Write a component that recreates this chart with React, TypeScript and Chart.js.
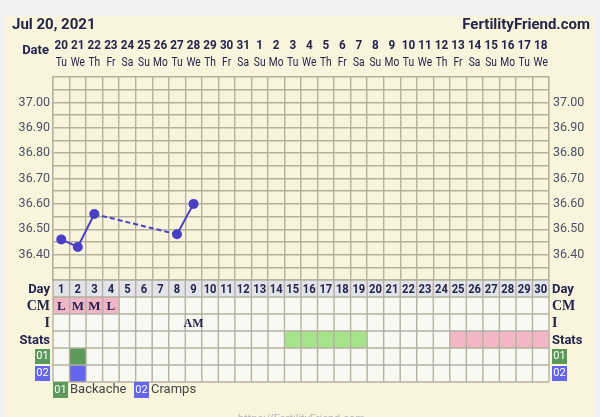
import React, { useEffect, useRef } from 'react';
import { Chart, registerables } from 'chart.js';

Chart.register(...registerables);

const headerDate = 'Jul 20, 2021';
const siteName = 'FertilityFriend.com';
const dateNumbers = ['20','21','22','23','24','25','26','27','28','29','30','31','1','2','3','4','5','6','7','8','9','10','11','12','13','14','15','16','17','18'];
const weekdays = ['Tu','We','Th','Fr','Sa','Su','Mo','Tu','We','Th','Fr','Sa','Su','Mo','Tu','We','Th','Fr','Sa','Su','Mo','Tu','We','Th','Fr','Sa','Su','Mo','Tu','We'];
const cycleDays = [1,2,3,4,5,6,7,8,9,10,11,12,13,14,15,16,17,18,19,20,21,22,23,24,25,26,27,28,29,30];
const tempDays = [1, 2, 3, 8, 9];
const temps = [36.46, 36.43, 36.56, 36.48, 36.60];
const tempTickLabels = [36.40, 36.50, 36.60, 36.70, 36.80, 36.90, 37.00];
const cmDays = [1, 2, 3, 4];
const cmLabels = ['L', 'M', 'M', 'L'];
const intercourseDays = [9];
const intercourseLabels = ['AM'];
const statsGreenDays = [15, 16, 17, 18, 19];
const statsPinkDays = [25, 26, 27, 28, 29, 30];
const backacheDays = [2];
const crampsDays = [2];
const rowNames = ['Day', 'CM', 'I', 'Stats', '01', '02'];
const legendItems = [
  { code: '01', name: 'Backache' },
  { code: '02', name: 'Cramps' },
];

const NAVY = '#24244c';
const GRID = '#b4b1a0';
const CREAM = '#f8f5dc';
const PINK = '#f2b6c6';
const LGREEN = '#a6e48c';
const DGREEN = '#5b9a5b';
const BLUE = '#6464ef';
const LINE = '#4a3fc4';

const ROW_H = 17;

const tablePlugin = {
  id: 'ffTable',
  beforeDraw(chart: any) {
    const ctx = chart.ctx;
    ctx.save();
    ctx.fillStyle = '#f1f1f1';
    ctx.fillRect(0, 0, chart.width, chart.height);
    ctx.fillStyle = CREAM;
    ctx.fillRect(5, 16, 590, chart.height - 16);
    ctx.restore();
  },
  afterDraw(chart: any) {
    const ctx = chart.ctx;
    const x = chart.scales.x;
    const area = chart.chartArea;
    const top = area.bottom;
    const L = x.getPixelForValue(0.5);
    const R = x.getPixelForValue(30.5);
    const cx = (d: number) => x.getPixelForValue(d);
    const cl = (d: number) => x.getPixelForValue(d - 0.5);
    const cw = x.getPixelForValue(1.5) - x.getPixelForValue(0.5);
    const rowY = (r: number) => top + r * ROW_H;
    const narrowText = (t: string, px: number, py: number, sx: number) => {
      ctx.save();
      ctx.translate(px, py);
      ctx.scale(sx, 1);
      ctx.fillText(t, 0, 0);
      ctx.restore();
    };
    ctx.save();

    // row backgrounds
    ctx.fillStyle = '#e3e3ea';
    ctx.fillRect(L, rowY(0), R - L, ROW_H);
    ctx.fillStyle = '#f9f9f3';
    ctx.fillRect(L, rowY(1), R - L, ROW_H * 5);

    // colored cells
    const fillCells = (days: number[], row: number, color: string) => {
      ctx.fillStyle = color;
      days.forEach((d) => ctx.fillRect(cl(d), rowY(row), cw, ROW_H));
    };
    fillCells(cmDays, 1, PINK);
    fillCells(statsGreenDays, 3, LGREEN);
    fillCells(statsPinkDays, 3, PINK);
    fillCells(backacheDays, 4, DGREEN);
    fillCells(crampsDays, 5, BLUE);

    // grid lines
    ctx.strokeStyle = GRID;
    ctx.lineWidth = 1.4;
    ctx.beginPath();
    for (let r = 0; r <= rowNames.length; r++) {
      ctx.moveTo(L, rowY(r));
      ctx.lineTo(R, rowY(r));
    }
    for (let d = 0; d <= cycleDays.length; d++) {
      const px = x.getPixelForValue(d + 0.5);
      ctx.moveTo(px, rowY(0));
      ctx.lineTo(px, rowY(rowNames.length));
    }
    ctx.stroke();

    // day numbers
    ctx.fillStyle = NAVY;
    ctx.textAlign = 'center';
    ctx.textBaseline = 'middle';
    ctx.font = 'bold 13px Roboto';
    cycleDays.forEach((d) => narrowText(String(d), cx(d), rowY(0) + ROW_H / 2 + 1, 0.86));

    // CM / I labels (serif)
    ctx.font = 'bold 13px "Liberation Serif"';
    cmDays.forEach((d, i) => ctx.fillText(cmLabels[i], cx(d), rowY(1) + ROW_H / 2 + 1));
    ctx.font = 'bold 12px "Liberation Serif"';
    intercourseDays.forEach((d, i) => ctx.fillText(intercourseLabels[i], cx(d), rowY(2) + ROW_H / 2 + 1));

    // row labels left and right
    const drawRowLabel = (r: number, px: number, align: 'left' | 'right') => {
      const name = rowNames[r];
      const cy = rowY(r) + ROW_H / 2 + 1;
      if (name === '01' || name === '02') {
        const bw = 15, bh = 15;
        const bx = align === 'right' ? px - bw : px;
        ctx.fillStyle = name === '01' ? DGREEN : BLUE;
        ctx.fillRect(bx, cy - bh / 2 - 1, bw, bh);
        ctx.fillStyle = '#ffffff';
        ctx.font = '11px Roboto';
        ctx.textAlign = 'center';
        ctx.fillText(name, bx + bw / 2, cy - 1);
        return;
      }
      ctx.fillStyle = NAVY;
      ctx.textAlign = align;
      if (name === 'CM' || name === 'I') ctx.font = 'bold 14px "Liberation Serif"';
      else ctx.font = 'bold 13px Roboto';
      ctx.fillText(name, px, cy);
    };
    for (let r = 0; r < rowNames.length; r++) {
      drawRowLabel(r, L - 3, 'right');
      drawRowLabel(r, R + 3, 'left');
    }

    // header
    ctx.fillStyle = NAVY;
    ctx.textBaseline = 'middle';
    ctx.textAlign = 'left';
    ctx.font = 'bold 15px Roboto';
    ctx.fillText(headerDate, 12, 25);
    ctx.textAlign = 'right';
    ctx.fillText(siteName, 590, 25);
    ctx.font = 'bold 13px Roboto';
    ctx.fillText('Date', L - 4, 51);
    ctx.textAlign = 'center';
    ctx.font = 'bold 13px Roboto';
    cycleDays.forEach((d, i) => narrowText(dateNumbers[i], cx(d), 46, 0.9));
    ctx.font = '12px Roboto';
    cycleDays.forEach((d, i) => narrowText(weekdays[i], cx(d), 63, 0.85));

    // legend
    const ly = rowY(rowNames.length) + 8;
    let lx = L;
    legendItems.forEach((it) => {
      ctx.fillStyle = it.code === '01' ? DGREEN : BLUE;
      ctx.fillRect(lx, ly - 8, 15, 16);
      ctx.fillStyle = '#ffffff';
      ctx.font = '11px Roboto';
      ctx.textAlign = 'center';
      ctx.fillText(it.code, lx + 7.5, ly);
      ctx.fillStyle = '#444444';
      ctx.font = '13px Roboto';
      ctx.textAlign = 'left';
      ctx.fillText(it.name, lx + 17, ly);
      lx += 81;
    });

    // faint footer (cut off by the frame)
    ctx.fillStyle = '#b8b8b8';
    ctx.font = '11px Roboto';
    ctx.textAlign = 'left';
    ctx.textBaseline = 'top';
    ctx.fillText('https://FertilityFriend.com', 238, 414);

    ctx.restore();
  },
};

export default function App() {
  const ref = useRef<HTMLCanvasElement>(null);
  useEffect(() => {
    if (!ref.current) return;
    const gridValues: number[] = [];
    for (let i = 0; i <= 16; i++) gridValues.push(Math.round((36.3 + i * 0.05) * 100) / 100);
    const colEdges: number[] = [];
    for (let i = 0; i <= 30; i++) colEdges.push(i + 0.5);
    const labelFor = (v: number) =>
      tempTickLabels.some((t) => Math.abs(t - v) < 1e-6) ? v.toFixed(2) : '';

    const chart = new Chart(ref.current, {
      type: 'line',
      data: {
        datasets: [
          {
            data: tempDays.map((d, i) => ({ x: d, y: temps[i] })),
            borderColor: LINE,
            backgroundColor: LINE,
            pointBackgroundColor: LINE,
            pointBorderColor: LINE,
            pointRadius: 4,
            borderWidth: 2,
            tension: 0,
            segment: {
              borderDash: (c: any) => (c.p1.parsed.x - c.p0.parsed.x > 1 ? [5, 3] : undefined),
            },
          } as any,
        ],
      },
      options: {
        responsive: false,
        animation: false,
        layout: { padding: { top: 77, bottom: 137, left: 0, right: 0 } },
        plugins: { legend: { display: false }, tooltip: { enabled: false } },
        scales: {
          x: {
            type: 'linear',
            min: 0.5,
            max: 30.5,
            afterBuildTicks: (s: any) => { s.ticks = colEdges.map((v) => ({ value: v })); },
            afterFit: (s: any) => { s.height = 0; },
            ticks: { display: false },
            grid: { color: GRID, lineWidth: 1.4, drawTicks: false },
            border: { color: GRID, width: 1.4 },
          },
          y: {
            type: 'linear',
            position: 'left',
            min: 36.3,
            max: 37.1,
            afterBuildTicks: (s: any) => { s.ticks = gridValues.map((v) => ({ value: v })); },
            afterFit: (s: any) => { s.width = 53; },
            ticks: {
              autoSkip: false,
              padding: 3,
              color: '#4c5066',
              font: { family: 'Roboto', size: 12.5 },
              callback: (v: any) => labelFor(Number(v)),
            },
            grid: { color: GRID, lineWidth: 1.4, drawTicks: false },
            border: { color: GRID, width: 1.4 },
          },
          y2: {
            type: 'linear',
            position: 'right',
            min: 36.3,
            max: 37.1,
            afterBuildTicks: (s: any) => { s.ticks = gridValues.map((v) => ({ value: v })); },
            afterFit: (s: any) => { s.width = 51; },
            ticks: {
              autoSkip: false,
              padding: 4,
              color: '#4c5066',
              font: { family: 'Roboto', size: 12.5 },
              callback: (v: any) => labelFor(Number(v)),
            },
            grid: { display: false, drawTicks: false },
            border: { color: GRID, width: 1.4 },
          },
        },
      } as any,
      plugins: [tablePlugin],
    });
    return () => chart.destroy();
  }, []);

  return (
    <div style={{ position: 'fixed', left: 0, top: 0, width: 600, height: 417 }}>
      <canvas ref={ref} width={600} height={417} style={{ display: 'block', width: 600, height: 417 }} />
    </div>
  );
}
